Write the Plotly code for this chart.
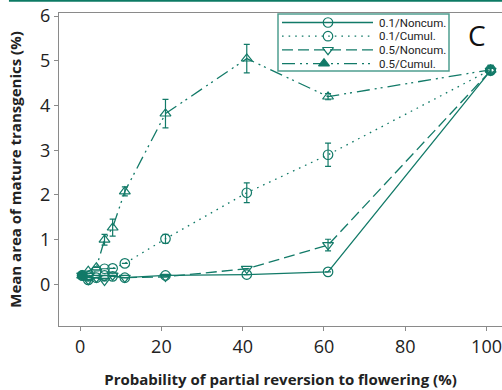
import plotly.graph_objects as go

# Probability of partial reversion to flowering (%)
reversion = [0.5, 2, 4, 6, 8, 11, 21, 41, 61, 101]

# Mean area of mature transgenics (%) per scenario
noncum_01 = [0.20, 0.10, 0.15, 0.20, 0.18, 0.15, 0.20, 0.22, 0.28, 4.78]
cumul_01 = [0.20, 0.18, 0.30, 0.35, 0.36, 0.47, 1.02, 2.05, 2.90, 4.80]
noncum_05 = [0.20, 0.10, 0.15, 0.08, 0.20, 0.15, 0.17, 0.35, 0.88, 4.78]
cumul_05 = [0.20, 0.30, 0.38, 1.00, 1.27, 2.08, 3.82, 5.05, 4.20, 4.80]

# Standard errors
err_noncum_01 = [0, 0, 0, 0, 0, 0, 0, 0, 0, 0.08]
err_cumul_01 = [0, 0, 0, 0, 0, 0, 0.10, 0.22, 0.26, 0.10]
err_noncum_05 = [0, 0, 0, 0, 0, 0, 0, 0, 0.13, 0.08]
err_cumul_05 = [0, 0, 0, 0.12, 0.19, 0.10, 0.32, 0.32, 0.07, 0.10]

labels = ["0.1/Noncum.", "0.1/Cumul.", "0.5/Noncum.", "0.5/Cumul."]
x_ticks = [0, 20, 40, 60, 80, 100]
y_ticks = [0, 1, 2, 3, 4, 5, 6]

TEAL = "#127a68"
AXIS = "#8a8a8a"
FONT = "Open Sans"

dashes = ["solid", "1.6px,5px", "11px,5px", "13px,5px,2px,4px,2px,5px"]
symbols = [["circle"] + ["circle-open"] * 9, "circle-open", "triangle-down-open", "triangle-up-open"]
key_symbols = ["circle-open", "circle-open", "triangle-down-open", "triangle-up"]
all_values = [noncum_01, cumul_01, noncum_05, cumul_05]
all_errors = [err_noncum_01, err_cumul_01, err_noncum_05, err_cumul_05]

fig = go.Figure()
for vals, errs, dash, sym, name in zip(all_values, all_errors, dashes, symbols, labels):
    fig.add_trace(go.Scatter(
        x=reversion, y=vals, mode="lines+markers", name=name, showlegend=False,
        line=dict(color=TEAL, width=1.3, dash=dash),
        marker=dict(symbol=sym, size=9.5, color=TEAL, line=dict(color=TEAL, width=1.2)),
        error_y=dict(type="data", array=errs, color=TEAL, thickness=1.2, width=3),
    ))

# Legend drawn on a pixel-scaled overlay axis pair (x: 59..502, y: 13..326 top-down)
key_rows = [22.5, 36.2, 49.9, 63.6]
key_marker_x = [328, 328, 328, 324]
shapes = [
    dict(type="line", xref="paper", yref="paper",
         x0=-0.113, x1=1.0, y0=1.04, y1=1.04,
         line=dict(color="#0c7a64", width=2.5)),
    dict(type="rect", xref="x2", yref="y2", x0=278, x1=449, y0=14, y1=71,
         line=dict(color="#4f9e90", width=1.5), fillcolor="white", layer="below"),
]
annotations = [dict(text="C", xref="paper", yref="paper", x=0.9436, y=0.93,
                    xanchor="center", yanchor="middle", showarrow=False,
                    font=dict(size=28, family=FONT, color="#111"))]
for row, dash, name in zip(key_rows, dashes, labels):
    shapes.append(dict(type="line", xref="x2", yref="y2", x0=282, x1=373, y0=row, y1=row,
                       line=dict(color=TEAL, width=1.3, dash=dash)))
    annotations.append(dict(text=name, xref="x2", yref="y2", x=378, y=row,
                            xanchor="left", yanchor="middle", showarrow=False, borderpad=0,
                            font=dict(size=11.5, family="Roboto", color="#222")))
for row, mx, sym in zip(key_rows, key_marker_x, key_symbols):
    fig.add_trace(go.Scatter(
        x=[mx], y=[row], xaxis="x2", yaxis="y2", mode="markers", showlegend=False,
        hoverinfo="skip",
        marker=dict(symbol=sym, size=9.5, color=TEAL, line=dict(color=TEAL, width=1.2)),
    ))

fig.update_layout(
    width=502, height=390,
    margin=dict(l=59, r=0, t=13, b=64),
    paper_bgcolor="white", plot_bgcolor="white",
    font=dict(family=FONT, color="#222"),
    showlegend=False,
    xaxis=dict(
        range=[-5.2, 103.8], tickvals=x_ticks, ticks="outside", ticklen=4,
        tickcolor=AXIS, showline=True, linecolor=AXIS, linewidth=1.3, mirror=True,
        showgrid=False, zeroline=False, tickfont=dict(size=18, color="#222"),
        ticklabeloverflow="allow",
        title=dict(text="<b>Probability of partial reversion to flowering (%)</b>",
                   font=dict(size=15, color="#222"), standoff=17),
    ),
    yaxis=dict(
        range=[-0.93, 6.07], tickvals=y_ticks, ticks="outside", ticklen=4,
        tickcolor=AXIS, showline=True, linecolor=AXIS, linewidth=1.3,
        showgrid=False, zeroline=False, tickfont=dict(size=18, color="#222"),
        title=dict(text="<b>Mean area of mature transgenics (%)</b>",
                   font=dict(size=15, color="#222"), standoff=14),
    ),
    xaxis2=dict(overlaying="x", range=[59, 502], visible=False, domain=[0, 1]),
    yaxis2=dict(overlaying="y", range=[326, 13], visible=False, domain=[0, 1]),
    shapes=shapes,
    annotations=annotations,
)

fig.write_html("out.html")
